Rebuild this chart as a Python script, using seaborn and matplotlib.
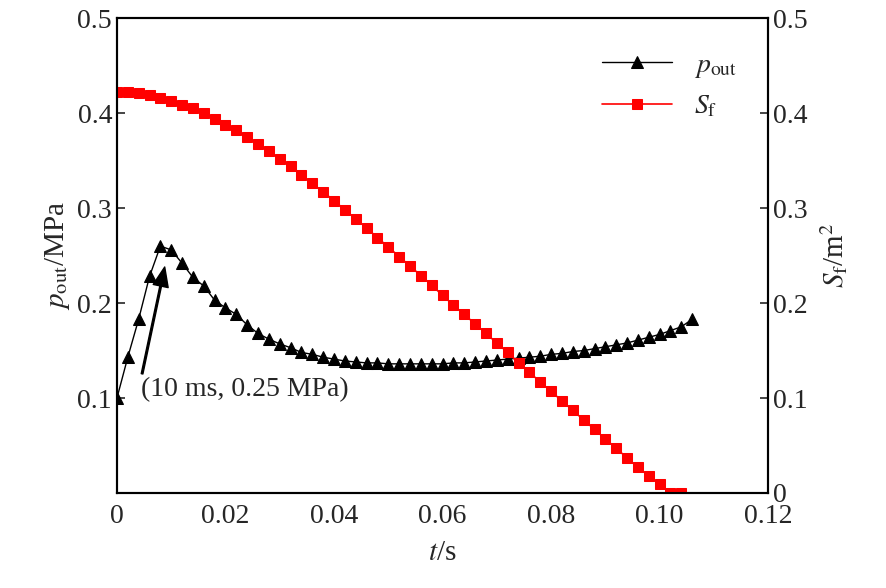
import numpy as np
import pandas as pd
import seaborn as sns
import matplotlib
matplotlib.use("Agg")
import matplotlib.pyplot as plt

p_out = [0.100,0.143,0.183,0.228,0.260,0.256,0.242,0.227,0.218,0.203,
         0.195,0.188,0.177,0.168,0.162,0.157,0.153,0.148,0.146,0.143,
         0.141,0.139,0.138,0.137,0.137,0.136,0.136,0.136,0.136,0.136,
         0.136,0.137,0.137,0.138,0.139,0.140,0.141,0.142,0.143,0.144,
         0.146,0.147,0.149,0.150,0.152,0.154,0.156,0.158,0.161,0.164,
         0.167,0.171,0.175,0.183]
t_p = [i * 0.002 for i in range(len(p_out))]

S_f = [0.422,0.422,0.421,0.419,0.416,0.413,0.409,0.405,0.400,0.394,
       0.388,0.382,0.375,0.368,0.360,0.352,0.344,0.335,0.326,0.317,
       0.308,0.298,0.289,0.279,0.269,0.259,0.249,0.239,0.229,0.219,
       0.208,0.198,0.188,0.178,0.168,0.158,0.148,0.137,0.127,0.117,
       0.107,0.097,0.087,0.077,0.067,0.057,0.047,0.037,0.027,0.018,
       0.009,0.000,0.000]
t_s = [i * 0.002 for i in range(len(S_f))]

sns.set_style("white")
plt.rcParams['font.family'] = ['Liberation Serif', 'DejaVu Serif']
plt.rcParams['mathtext.fontset'] = 'stix'

fig = plt.figure(figsize=(8.86, 5.88), dpi=100)
ax = fig.add_axes([0.132, 0.1616, 0.735, 0.8074])
ax2 = ax.twinx()

sns.lineplot(x=t_p, y=p_out, ax=ax, color='black', marker='^', markersize=8,
             markeredgecolor='black', linewidth=1, label=r'$p_{\rm out}$', legend=False)
sns.lineplot(x=t_s, y=S_f, ax=ax2, color='red', marker='s', markersize=7,
             markeredgecolor='red', linewidth=1.2, label=r'$S_{\rm f}$', legend=False)

ax.set_xlim(0, 0.12)
ax.set_ylim(0, 0.5)
ax2.set_ylim(0, 0.5)
ax.set_xticks([0, 0.02, 0.04, 0.06, 0.08, 0.10, 0.12])
ax.set_xticklabels(['0', '0.02', '0.04', '0.06', '0.08', '0.10', '0.12'])
ax.set_yticks([0.1, 0.2, 0.3, 0.4, 0.5])
ax.set_yticklabels(['0.1', '0.2', '0.3', '0.4', '0.5'])
ax2.set_yticks([0, 0.1, 0.2, 0.3, 0.4, 0.5])
ax2.set_yticklabels(['0', '0.1', '0.2', '0.3', '0.4', '0.5'])

for a in (ax, ax2):
    a.tick_params(direction='in', labelsize=20, length=6, width=1.2)
    for s in a.spines.values():
        s.set_linewidth(1.5)
        s.set_color('black')
ax.tick_params(axis='x', pad=8)

ax.set_xlabel(r'$t$/s', fontsize=21, labelpad=8)
ax.set_ylabel(r'$p_{\rm out}$/MPa', fontsize=21)
ax2.set_ylabel(r'$S_{\rm f}$/m$^2$', fontsize=21, labelpad=8)

ax.annotate('(10 ms, 0.25 MPa)', xy=(0.0088, 0.238), xytext=(0.0045, 0.102),
            fontsize=20,
            arrowprops=dict(facecolor='black', edgecolor='black', width=1.2,
                            headwidth=11, headlength=14, shrink=0.0))

h1, l1 = ax.get_legend_handles_labels()
h2, l2 = ax2.get_legend_handles_labels()
ax2.legend(h1 + h2, l1 + l2, loc='upper right', frameon=False, fontsize=20,
           bbox_to_anchor=(0.99, 0.98), handlelength=2.5)

fig.savefig('out.png', dpi=100)
